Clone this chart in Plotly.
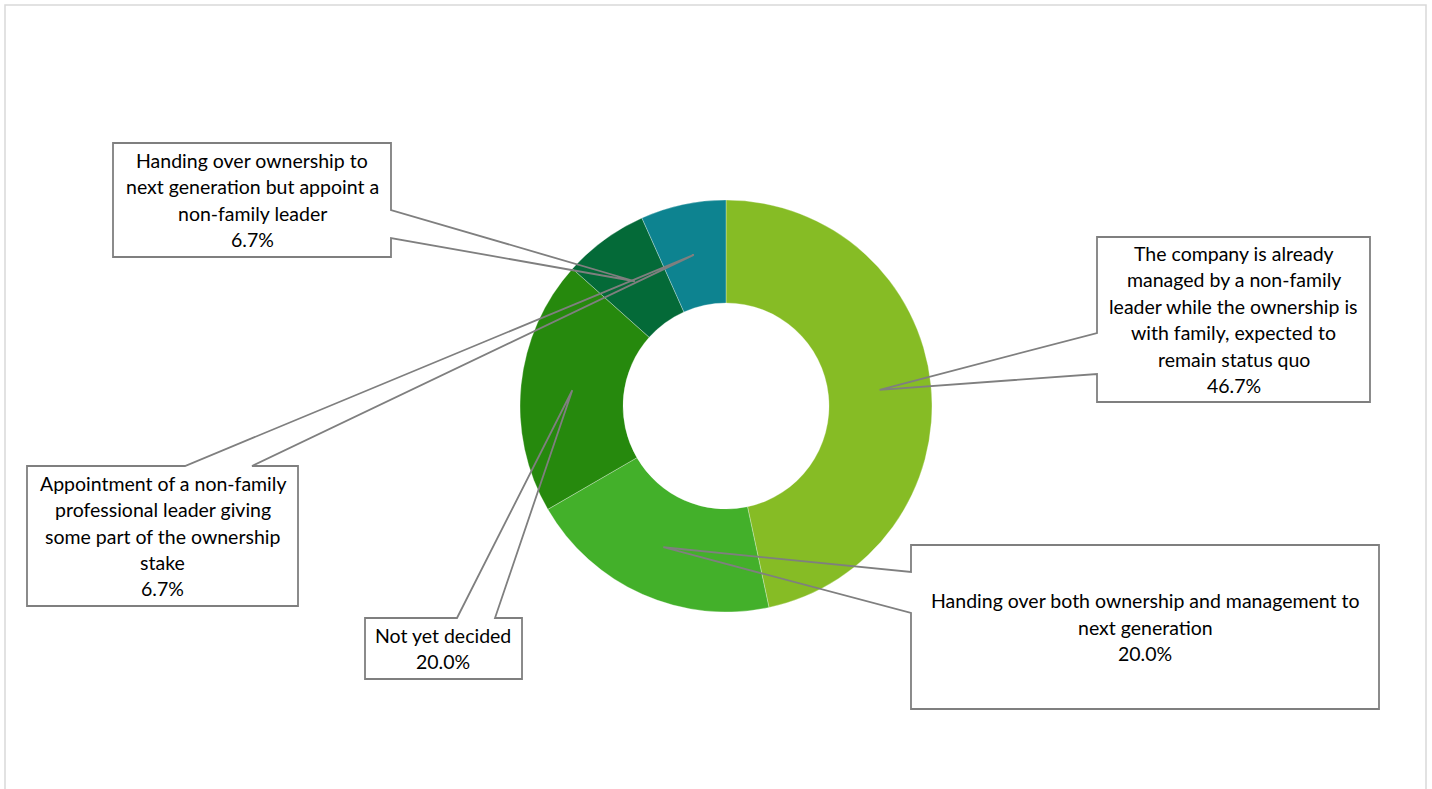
import math
import plotly.graph_objects as go

# Survey answers: expected succession model
categories = [
    "The company is already managed by a non-family leader while the ownership is with family, expected to remain status quo",
    "Handing over both ownership and management to next generation",
    "Not yet decided",
    "Handing over ownership to next generation but appoint a non-family leader",
    "Appointment of a non-family professional leader giving some part of the ownership stake",
]
shares = [46.7, 20.0, 20.0, 6.7, 6.7]
slice_colors = ["#86BC25", "#43B02A", "#26890D", "#046A38", "#0D8390"]

# Wrapped label text for each callout
label_lines = [
    ["The company is already", "managed by a non-family", "leader while the ownership is",
     "with family, expected to", "remain status quo"],
    ["Handing over both ownership and management to", "next generation"],
    ["Not yet decided"],
    ["Handing over ownership to", "next generation but appoint a", "non-family leader"],
    ["Appointment of a non-family", "professional leader giving", "some part of the ownership", "stake"],
]

# ---- layout (pixels) ----
W, H = 1432, 789
CX, CY, R = 726, 406, 206
HOLE = 0.5

# callout boxes: (x0, y0, x1, y1), side the pointer leaves from, pointer base positions
callouts = [
    ((1097, 237, 1370, 402), "left", (333, 374)),
    ((911, 545, 1379, 709), "left", (572, 613)),
    ((365, 618, 522, 679), "top", (457, 495)),
    ((113, 143, 391, 257), "right", (210, 238)),
    ((27, 466, 298, 606), "top", (185, 252)),
]

FONT = "Lato"
FONT_SIZE = 19.5
LINE_H = 26.4
LINE_COLOR = "#7f7f7f"


def px(x):
    return x / W


def py(y):
    return 1 - y / H


def path_from(points):
    return "M " + " L ".join(f"{px(x):.5f},{py(y):.5f}" for x, y in points) + " Z"


def callout_points(box, side, base, tip):
    x0, y0, x1, y1 = box
    a, b = base
    if side == "left":
        return [(x0, y0), (x1, y0), (x1, y1), (x0, y1), (x0, b), tip, (x0, a)]
    if side == "right":
        return [(x0, y0), (x1, y0), (x1, a), tip, (x1, b), (x1, y1), (x0, y1)]
    if side == "top":
        return [(x0, y0), (a, y0), tip, (b, y0), (x1, y0), (x1, y1), (x0, y1)]
    return [(x0, y0), (x1, y0), (x1, y1), (b, y1), tip, (a, y1), (x0, y1)]


fig = go.Figure()
fig.add_trace(go.Pie(
    values=shares,
    labels=categories,
    hole=HOLE,
    sort=False,
    direction="clockwise",
    rotation=0,
    textinfo="none",
    marker=dict(colors=slice_colors, line=dict(color="rgba(255,255,255,0.6)", width=0.5)),
    domain=dict(x=[px(CX - R), px(CX + R)], y=[py(CY + R), py(CY - R)]),
    showlegend=False,
    hovertemplate="%{label}<br>%{value:.1f}%<extra></extra>",
))

shapes = [dict(type="rect", xref="paper", yref="paper",
               x0=px(5), x1=px(1426), y0=py(5), y1=py(800),
               line=dict(color="#d9d9d9", width=1.5), fillcolor="rgba(0,0,0,0)",
               layer="below")]
annotations = []

total = sum(shares)
r_mid = R * (1 + HOLE) / 2
cum = 0.0
for i, v in enumerate(shares):
    mid = (cum + v / 2) / total * 2 * math.pi
    cum += v
    tip = (CX + r_mid * math.sin(mid), CY - r_mid * math.cos(mid))
    box, side, base = callouts[i]
    shapes.append(dict(type="path", xref="paper", yref="paper",
                       path=path_from(callout_points(box, side, base, tip)),
                       line=dict(color=LINE_COLOR, width=1.8),
                       fillcolor="rgba(0,0,0,0)"))
    lines = label_lines[i] + [f"{v:.1f}%"]
    xc = (box[0] + box[2]) / 2
    yc = (box[1] + box[3]) / 2
    n = len(lines)
    for k, t in enumerate(lines):
        yk = yc + (k - (n - 1) / 2) * LINE_H
        annotations.append(dict(xref="paper", yref="paper", x=px(xc), y=py(yk),
                                text=t, showarrow=False, xanchor="center",
                                yanchor="middle",
                                font=dict(family=FONT, size=FONT_SIZE, color="#000000")))

fig.update_layout(
    width=W, height=H,
    margin=dict(l=0, r=0, t=0, b=0),
    paper_bgcolor="white",
    plot_bgcolor="white",
    shapes=shapes,
    annotations=annotations,
)

fig.write_html("out.html")
